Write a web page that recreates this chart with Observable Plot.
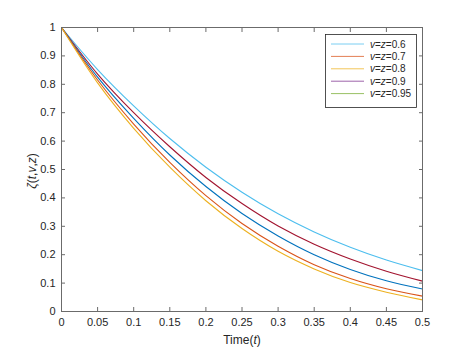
<!DOCTYPE html>
<html><head><meta charset="utf-8">
<script src="https://cdn.jsdelivr.net/npm/d3@7"></script>
<script src="https://cdn.jsdelivr.net/npm/@observablehq/plot@0.6"></script>
<style>body{margin:0;background:#fff;} svg{display:block}</style>
</head><body><div id="chart"></div>
<script>
const times = [0, 0.05, 0.1, 0.15, 0.2, 0.25, 0.3, 0.35, 0.4, 0.45, 0.5];
const curveLightBlue = [1, 0.852, 0.724, 0.609, 0.508, 0.420, 0.344, 0.280, 0.226, 0.181, 0.144];
const curveRed       = [1, 0.836, 0.700, 0.580, 0.472, 0.380, 0.301, 0.237, 0.185, 0.142, 0.107];
const curveBlue      = [1, 0.825, 0.680, 0.551, 0.440, 0.345, 0.266, 0.200, 0.148, 0.108, 0.079];
const curveOrange    = [1, 0.815, 0.660, 0.525, 0.408, 0.310, 0.230, 0.165, 0.116, 0.080, 0.054];
const curveYellow    = [1, 0.805, 0.645, 0.508, 0.390, 0.292, 0.212, 0.150, 0.102, 0.068, 0.041];
const series = [curveLightBlue, curveRed, curveBlue, curveOrange, curveYellow];
const lineColors = ["#4DBEEE", "#A2142F", "#0072BD", "#D95319", "#EDB120"];

const legendValues = ["0.6", "0.7", "0.8", "0.9", "0.95"];
const legendColors = ["#4DBEEE", "#D95319", "#EDB120", "#7E2F8E", "#77AC30"];

const xTicks = [0, 0.05, 0.1, 0.15, 0.2, 0.25, 0.3, 0.35, 0.4, 0.45, 0.5];
const yTicks = [0, 0.1, 0.2, 0.3, 0.4, 0.5, 0.6, 0.7, 0.8, 0.9, 1];

const rows = [];
series.forEach((vals, i) => vals.forEach((v, j) => rows.push({t: times[j], y: v, s: i, c: lineColors[i]})));

const font = "'Liberation Sans', Arial, Helvetica, sans-serif";
const axisCol = "#6b6b6b";
const textCol = "#262626";

const chart = Plot.plot({
  width: 467, height: 350,
  marginLeft: 61, marginRight: 45, marginTop: 27, marginBottom: 39,
  style: {fontFamily: font, fontSize: "11px", color: textCol, background: "#fff"},
  x: {domain: [0, 0.5], label: null},
  y: {domain: [0, 1], label: null},
  color: {type: "identity"},
  marks: [
    Plot.line(rows, {x: "t", y: "y", z: "s", stroke: "c", curve: "catmull-rom", strokeWidth: 1.1}),
    Plot.frame({stroke: axisCol, strokeWidth: 1}),
    Plot.axisX({ticks: xTicks, tickSize: -4, tickPadding: 11, tickFormat: d => String(d), label: null, stroke: axisCol, fill: textCol}),
    Plot.axisX({anchor: "top", ticks: xTicks, tickSize: -4, tickFormat: () => "", label: null, stroke: axisCol}),
    Plot.axisY({ticks: yTicks, tickSize: -4, tickPadding: 10, tickFormat: d => String(d), label: null, stroke: axisCol, fill: textCol}),
    Plot.axisY({anchor: "right", ticks: yTicks, tickSize: -4, tickFormat: () => "", label: null, stroke: axisCol})
  ]
});
document.getElementById("chart").appendChild(chart);

const svg = d3.select(chart);
// x label
const xl = svg.append("text").attr("x", 242).attr("y", 344).attr("text-anchor", "middle")
  .attr("font-family", font).attr("font-size", "12px").attr("fill", textCol);
xl.append("tspan").text("Time(");
xl.append("tspan").attr("font-style", "italic").text("t");
xl.append("tspan").text(")");
// y label
const yl = svg.append("text").attr("transform", "translate(36,171) rotate(-90)").attr("text-anchor", "middle")
  .attr("font-family", font).attr("font-size", "12px").attr("fill", textCol);
yl.append("tspan").attr("font-style", "italic").text("ζ");
yl.append("tspan").text("(");
yl.append("tspan").attr("font-style", "italic").text("t");
yl.append("tspan").text(",");
yl.append("tspan").attr("font-style", "italic").text("v");
yl.append("tspan").text(",");
yl.append("tspan").attr("font-style", "italic").text("z");
yl.append("tspan").text(")");

// legend
const lg = svg.append("g");
lg.append("rect").attr("x", 325.5).attr("y", 34.5).attr("width", 91).attr("height", 73)
  .attr("fill", "#fff").attr("stroke", "#262626").attr("stroke-width", 0.8);
legendValues.forEach((v, i) => {
  const cy = 44 + i * 12.4;
  lg.append("line").attr("x1", 331).attr("x2", 364).attr("y1", cy).attr("y2", cy)
    .attr("stroke", legendColors[i]).attr("stroke-width", 1).attr("stroke-opacity", 0.75);
  const t = lg.append("text").attr("x", 370).attr("y", cy + 3.6).attr("text-anchor", "start")
    .attr("font-family", font).attr("font-size", "10px").attr("fill", textCol);
  t.append("tspan").attr("font-style", "italic").text("v");
  t.append("tspan").text("=");
  t.append("tspan").attr("font-style", "italic").text("z");
  t.append("tspan").text("=" + v);
});
</script></body></html>
